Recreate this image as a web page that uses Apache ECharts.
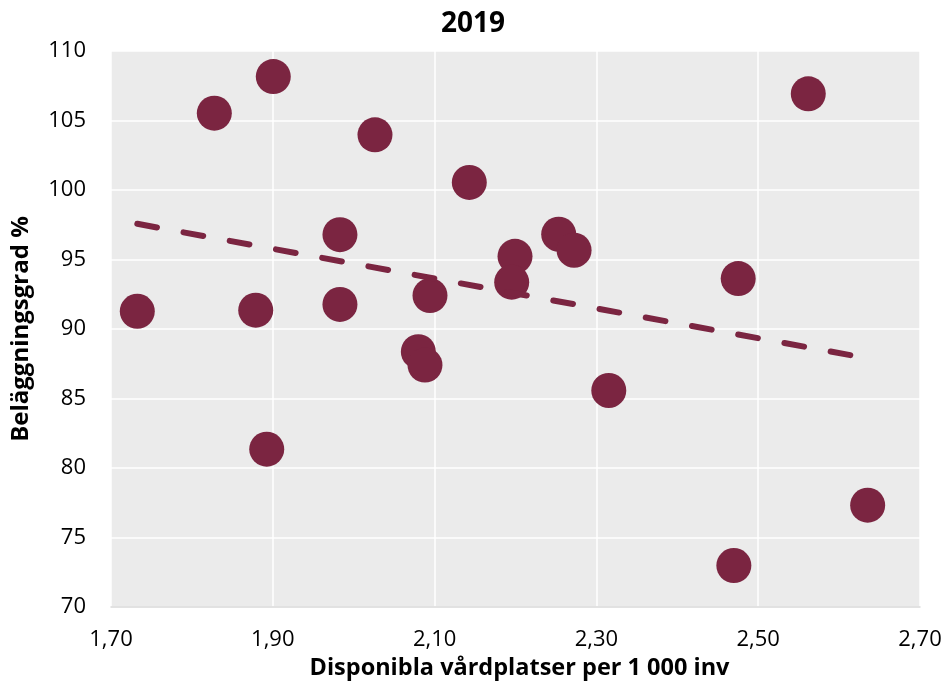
<!DOCTYPE html>
<html>
<head>
<meta charset="utf-8">
<script src="https://cdn.jsdelivr.net/npm/echarts@6/dist/echarts.min.js"></script>
<style>
html,body{margin:0;padding:0;background:#fff;}
#c{width:946px;height:685px;}
</style>
</head>
<body>
<div id="c"></div>
<script>
// Data (x: available beds per 1 000 inh., y: occupancy %)
const bedsPer1000 = [1.7325, 1.8277, 1.9006, 1.8789, 1.8925, 1.983, 1.983, 2.0263, 2.0799, 2.0881, 2.0943, 2.1429, 2.1994, 2.1953, 2.2534, 2.2724, 2.3153, 2.4753, 2.4699, 2.5619, 2.6353];
const occupancy   = [91.28, 105.53, 108.16, 91.36, 81.36, 96.79, 91.77, 103.97, 88.37, 87.41, 92.41, 100.55, 95.23, 93.37, 96.82, 95.67, 85.58, 93.63, 72.99, 106.92, 77.33];
const xTicks = [1.70, 1.90, 2.10, 2.30, 2.50, 2.70];
const yTicks = [70, 75, 80, 85, 90, 95, 100, 105, 110];
const titleText = '2019';
const xName = 'Disponibla vårdplatser per 1 000 inv';
const yName = 'Beläggningsgrad %';

const points = bedsPer1000.map((x, i) => [x, occupancy[i]]);

// Linear least-squares trend line computed from the data
const n = points.length;
const mx = bedsPer1000.reduce((a, b) => a + b, 0) / n;
const my = occupancy.reduce((a, b) => a + b, 0) / n;
let sxy = 0, sxx = 0;
for (let i = 0; i < n; i++) {
  sxy += (bedsPer1000[i] - mx) * (occupancy[i] - my);
  sxx += (bedsPer1000[i] - mx) * (bedsPer1000[i] - mx);
}
const slope = sxy / sxx;
const icpt = my - slope * mx;
const xMin = Math.min(...bedsPer1000), xMax = Math.max(...bedsPer1000);
const trend = [[xMin, icpt + slope * xMin], [xMax, icpt + slope * xMax]];

const FONT = '"Open Sans", Lato, sans-serif';
const COL = '#7b2541';

const chart = echarts.init(document.getElementById('c'), null, {renderer: 'canvas'});
chart.setOption({
  backgroundColor: '#ffffff',
  animation: false,
  title: {
    text: titleText,
    left: 'center',
    top: 5,
    textStyle: {fontFamily: FONT, fontWeight: 'bold', fontSize: 28, color: '#000'}
  },
  grid: {
    left: 111, right: 26, top: 51, bottom: 77,
    show: true, backgroundColor: '#ebebeb', borderWidth: 0
  },
  xAxis: {
    type: 'value',
    min: xTicks[0], max: xTicks[xTicks.length - 1], interval: 0.2,
    name: xName,
    nameLocation: 'middle',
    nameGap: 45,
    nameTextStyle: {fontFamily: FONT, fontWeight: 'bold', fontSize: 23.5, color: '#000', padding: [0, 0, 0, 8]},
    axisLine: {show: true, lineStyle: {color: '#d9d9d9', width: 1.5}},
    axisTick: {show: false},
    splitLine: {show: true, lineStyle: {color: '#ffffff', width: 1.5}},
    axisLabel: {
      margin: 22,
      fontFamily: FONT, fontSize: 22, color: '#000',
      formatter: v => v.toFixed(2).replace('.', ',')
    }
  },
  yAxis: {
    type: 'value',
    min: yTicks[0], max: yTicks[yTicks.length - 1], interval: 5,
    name: yName,
    nameLocation: 'middle',
    nameGap: 78,
    nameRotate: 90,
    nameTextStyle: {fontFamily: FONT, fontWeight: 'bold', fontSize: 24, color: '#000'},
    axisLine: {show: false},
    axisTick: {show: false},
    splitLine: {show: true, lineStyle: {color: '#ffffff', width: 1.5}},
    axisLabel: {margin: 25, fontFamily: FONT, fontSize: 22, color: '#000'}
  },
  series: [
    {
      type: 'scatter',
      data: points,
      symbol: 'circle',
      symbolSize: 35,
      itemStyle: {color: COL, opacity: 1},
      z: 2
    },
    {
      type: 'line',
      data: trend,
      symbol: 'none',
      lineStyle: {color: COL, width: 6, type: [20, 27], cap: 'round'},
      z: 3,
      silent: true
    }
  ]
});
</script>
</body>
</html>
